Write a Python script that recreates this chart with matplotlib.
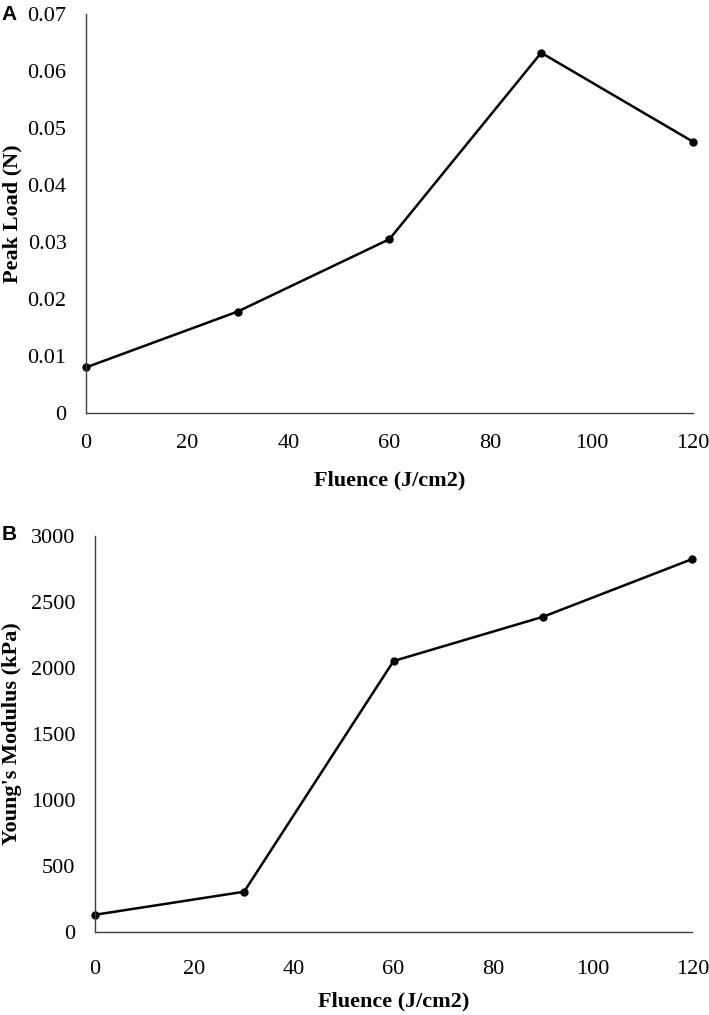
import matplotlib
matplotlib.use("Agg")
import matplotlib.pyplot as plt

fluence = [0, 30, 60, 90, 120]
peak_load = [0.008, 0.0178, 0.0305, 0.0632, 0.0476]
youngs_modulus = [130, 305, 2053, 2388, 2826]

x_ticks = [0, 20, 40, 60, 80, 100, 120]
a_yticks = [0, 0.01, 0.02, 0.03, 0.04, 0.05, 0.06, 0.07]
a_ylabels = ["0", "0.01", "0.02", "0.03", "0.04", "0.05", "0.06", "0.07"]
b_yticks = [0, 500, 1000, 1500, 2000, 2500, 3000]

plt.rcParams['font.family'] = ['Liberation Serif', 'DejaVu Serif']

fig = plt.figure(figsize=(7.09, 10.15), dpi=100)
axA = fig.add_axes([0.1213, 0.5931, 0.856, 0.3931])
axB = fig.add_axes([0.1336, 0.0818, 0.843, 0.3901])

def style(ax, ylabel, ylab_x, xpad, xlabpad):
    for s in ['top', 'right']:
        ax.spines[s].set_visible(False)
    for s in ['left', 'bottom']:
        ax.spines[s].set_color('#404040')
        ax.spines[s].set_linewidth(1.0)
    ax.tick_params(axis='y', length=0, labelsize=16, pad=14, colors='black')
    ax.tick_params(axis='x', length=0, labelsize=16, pad=xpad, colors='black')
    ax.set_xlim(0, 120)
    ax.set_xticks(x_ticks)
    ax.set_xlabel('Fluence (J/cm2)', fontsize=16, fontweight='bold', labelpad=xlabpad)
    ax.set_ylabel(ylabel, fontsize=16, fontweight='bold')
    ax.yaxis.set_label_coords(ylab_x, 0.5)

axA.plot(fluence, peak_load, color='black', lw=1.8, marker='o', ms=5, clip_on=False)
style(axA, 'Peak Load (N)', -0.104, 15, 13)
axA.set_ylim(0, 0.07)
axA.set_yticks(a_yticks)
axA.set_yticklabels(a_ylabels)

axB.plot(fluence, youngs_modulus, color='black', lw=1.8, marker='o', ms=5, clip_on=False)
style(axB, "Young's Modulus (kPa)", -0.122, 20, 9)
axB.set_ylim(0, 3000)
axB.set_yticks(b_yticks)

fig.text(0.002, 0.986, 'A', fontsize=15, fontweight='bold', family='Liberation Sans', va='center', ha='left')
fig.text(0.002, 0.473, 'B', fontsize=15, fontweight='bold', family='Liberation Sans', va='center', ha='left')

fig.savefig('out.png', dpi=100)
